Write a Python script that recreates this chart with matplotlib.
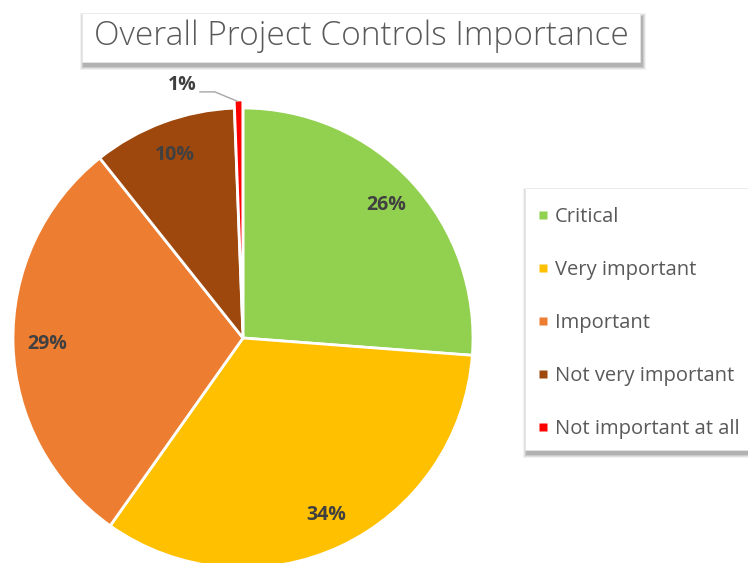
import matplotlib
matplotlib.use("Agg")
import matplotlib.pyplot as plt
import numpy as np
from matplotlib.patches import Rectangle
from matplotlib.lines import Line2D

plt.rcParams['font.family'] = ['Open Sans', 'DejaVu Sans']

title = "Overall Project Controls Importance"
categories = ['Critical', 'Very important', 'Important',
              'Not very important', 'Not important at all']
shares = [26.2, 33.6, 29.5, 10.1, 0.6]
labels = ['26%', '34%', '29%', '10%', '1%']
colors = ['#92D050', '#FFC000', '#ED7D31', '#9E480E', '#FF0000']

W, H = 748, 563
fig = plt.figure(figsize=(W / 100, H / 100), dpi=100)


def shadow_box(x0, y0, x1, y1, zorder=0):
    # pixel coords from top-left -> figure coords, with soft shadow
    for i, a in enumerate([0.05, 0.07, 0.09, 0.12]):
        off = 4 - i
        fig.patches.append(Rectangle(((x0 + 2 - off) / W, 1 - (y1 + 4 + off) / H),
                                     (x1 - x0 + 2 * off) / W, (y1 - y0 + 2 * off) / H,
                                     transform=fig.transFigure, facecolor='black',
                                     edgecolor='none', alpha=a, zorder=zorder))
    fig.patches.append(Rectangle((x0 / W, 1 - y1 / H), (x1 - x0) / W, (y1 - y0) / H,
                                 transform=fig.transFigure, facecolor='white',
                                 edgecolor='#E6E6E6', lw=0.5, zorder=zorder + 0.1))


# pie centred at (243, 338) px, radius 230 px
cx, cy, r = 243, 338, 230
ax = fig.add_axes([(cx - r) / W, (H - cy - r) / H, 2 * r / W, 2 * r / H])
explode = [0, 0, 0, 0, 0.035]
wedges, _ = ax.pie(shares, colors=colors, startangle=90, counterclock=False,
                   explode=explode, radius=1,
                   wedgeprops=dict(edgecolor='white', linewidth=2))
ax.set_xlim(-1, 1)
ax.set_ylim(-1, 1)
ax.set_aspect('equal')
ax.axis('off')

start = 90.0
for i, (s, lab) in enumerate(zip(shares, labels)):
    mid = start - s * 3.6 / 2
    start -= s * 3.6
    if i == len(shares) - 1:
        continue
    t = np.deg2rad(mid)
    ax.text(0.85 * np.cos(t), 0.85 * np.sin(t), lab, ha='center', va='center',
            fontsize=14, fontweight='bold', color='#404040')

# small slice: label outside with leader line
ax.plot([-0.187, -0.122, -0.026], [1.07, 1.07, 1.03], color='#A6A6A6', lw=1,
        clip_on=False)
ax.text(-0.20, 1.10, labels[-1], ha='right', va='center',
        fontsize=14, fontweight='bold', color='#404040')

# title box
shadow_box(82, 13, 640, 62)
fig.text(361 / W, 1 - 36 / H, title, ha='center', va='center', fontsize=24,
         fontweight='light', color='#595959', zorder=5)

# legend box
shadow_box(525, 188, 775, 450)
handles = [Line2D([], [], marker='s', linestyle='none', markersize=6,
                  markerfacecolor=c, markeredgecolor='none') for c in colors]
fig.legend(handles, categories, loc='upper left',
           bbox_to_anchor=(528 / W, 1 - 197 / H), frameon=False, fontsize=14.5,
           labelcolor='#595959', handlelength=0.5, handletextpad=0.35,
           labelspacing=1.64, borderpad=0)

fig.savefig('out.png', dpi=100)
